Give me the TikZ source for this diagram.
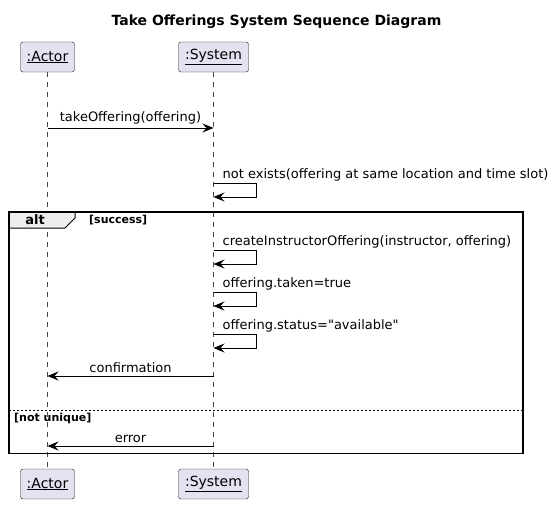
\documentclass[tikz,border=0pt]{standalone}
\usepackage{fontspec}
\setmainfont{DejaVu Sans}[Ligatures=TeXOff]
\usetikzlibrary{arrows.meta,positioning}
\definecolor{partfill}{HTML}{E2E2F0}
\definecolor{partline}{HTML}{181818}
\definecolor{tabfill}{HTML}{EEEEEE}

\begin{document}
\begin{tikzpicture}[x=1pt, y=-1pt,
      every node/.style = {inner sep=0pt, font=\fontsize{13}{15}\selectfont},
      part/.style = {shape=rectangle, rounded corners=2.5pt,
        draw=partline, fill=partfill, minimum height=30pt,
        font=\fontsize{14}{16}\selectfont},
      lifeline/.style = {draw=partline!80, dash pattern=on 5pt off 5pt, line width=0.5pt},
      msg/.style = {line width=1pt, -{Stealth[length=11pt,width=9pt,inset=4pt]}},
      guard/.style = {font=\fontsize{11}{13}\selectfont\bfseries}]
  \useasboundingbox (0,0) rectangle (553,504);

  \node[font=\fontsize{14}{16}\selectfont\bfseries] (title) at (276.5,22)
    {Take Offerings System Sequence Diagram};

  % participants
  \node[part, minimum width=54pt] (actortop) at (47.5,57) {\underline{:Actor}};
  \node[part, minimum width=70pt] (systemtop) at (213.5,57) {\underline{:System}};
  \node[part, minimum width=54pt] (actorbot) at (47.5,484) {\underline{:Actor}};
  \node[part, minimum width=70pt] (systembot) at (213.5,484) {\underline{:System}};
  \draw[lifeline] (actortop) -- (actorbot);
  \draw[lifeline] (systemtop) -- (systembot);

  % alt frame
  \draw[line width=1pt, fill=tabfill] (9,212) -- (75,212) -- (75,218)
    -- (65,228) -- (9,228) -- cycle;
  \draw[line width=1.5pt] (9,212) rectangle (523,453.5);
  \draw[dash pattern=on 2pt off 2pt, line width=0.8pt] (9,410.5) -- (523,410.5);
  \node[font=\fontsize{13}{15}\selectfont\bfseries] (alt) at (35,220) {alt};
  \node[guard, anchor=west] (success) at (89,220) {[success]};
  \node[guard, anchor=west] (notunique) at (14,418) {[not unique]};

  % messages
  \coordinate (a0) at (actortop |- 0,128);
  \coordinate (s0) at (systemtop |- 0,128);
  \draw[msg] (a0) -- (s0) node[midway, above=3pt] (m0) {takeOffering(offering)};

  \foreach \y/\txt [count=\i] in {183/{not exists(offering at same location and time slot)},
      250/{createInstructorOffering(instructor, offering)},
      292/{offering.taken=true},
      334/{offering.status="available"}} {
    \coordinate (s\i) at (systemtop |- 0,\y);
    \draw[msg] (s\i) -- ++(43,0) -- ++(0,14) -- ++(-43,0);
    \node[anchor=south west] (self\i) at ([xshift=9pt,yshift=2pt]s\i) {\txt};
  }

  \coordinate (s5) at (systemtop |- 0,376);
  \coordinate (a5) at (actortop |- 0,376);
  \draw[msg] (s5) -- (a5) node[midway, above=3pt] (m5) {confirmation};

  \coordinate (s6) at (systemtop |- 0,446);
  \coordinate (a6) at (actortop |- 0,446);
  \draw[msg] (s6) -- (a6) node[midway, above=3pt] (m6) {error};
\end{tikzpicture}
\end{document}
